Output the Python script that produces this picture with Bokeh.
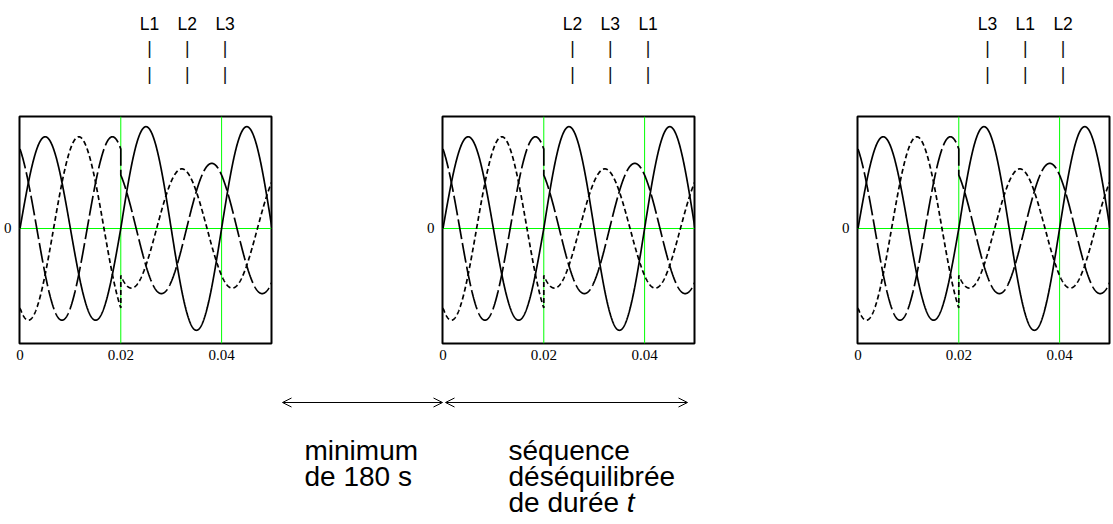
import numpy as np
from bokeh.plotting import figure
from bokeh.layouts import column, row
from bokeh.models import Range1d, FixedTicker, Arrow, OpenHead
from bokeh.core.properties import value
from bokeh.embed import file_html
from bokeh.resources import INLINE

# ---------------- data ----------------
freq_hz = 50
t_start = 0.0
t_switch = 0.02
t_end = 0.05
# phasor description of the three curves (solid, short dash, long dash)
amp_before = [1.00, 1.00, 1.00]
angle_before_deg = [0, -120, 120]
amp_after = [1.11, 0.65, 0.71]
angle_after_deg = [0, -128, 125]
y_limits = [-1.254, 1.221]

x_ticks = [0, 0.02, 0.04]
x_tick_labels = ["0", "0.02", "0.04"]
y_ticks = [0]
y_tick_labels = ["0"]

panel_labels = [["L1", "L2", "L3"], ["L2", "L3", "L1"], ["L3", "L1", "L2"]]
left_text = ["minimum", "de 180 s"]
right_text = ["séquence", "déséquilibrée", "de durée"]
right_text_italic = "t"

# ---------------- layout / style ----------------
FRAME_W, FRAME_H = 255, 227
BORDER_L = 16
frame_left = [24, 439, 854]          # page x of each plot frame
TOP_H, PLOT_TOP, PLOT_BOTTOM, BOTTOM_H = 112, 4, 26, 154
TOTAL_W = 1112
label_t = [0.0257, 0.0332, 0.0407]   # where the L-labels sit on each time axis
curve_dash = ["solid", "5 3", "20 4"]
GREEN = "#00ff00"
half_px = 0.5 * (t_end - t_start) / FRAME_W   # keeps 1px green lines crisp

omega = 2 * np.pi * freq_hz
t_a = np.linspace(t_start, t_switch, 500)
t_b = np.linspace(t_switch, t_end, 750)
t_all = np.concatenate([t_a, t_b])

col_starts = [0] + [fl - BORDER_L for fl in frame_left[1:]]
col_ends = col_starts[1:] + [TOTAL_W]
widths = [e - s for s, e in zip(col_starts, col_ends)]
border_r = [w - BORDER_L - FRAME_W for w in widths]

SANS = value("Liberation Sans")

cols = []
for i in range(3):
    x_rng = Range1d(t_start - half_px, t_end - half_px)
    # --- label strip above the plot ---
    lab = figure(width=widths[i], height=TOP_H, x_range=x_rng,
                 y_range=Range1d(TOP_H, 0), title=None,
                 x_axis_type=None, y_axis_type=None, toolbar_location=None,
                 output_backend="svg", min_border_left=BORDER_L,
                 min_border_right=border_r[i], min_border_top=0, min_border_bottom=0,
                 outline_line_color=None)
    lab.text(x=label_t, y=[23.5] * 3, text=panel_labels[i],
             text_font=SANS, text_font_size="17.5px",
             text_align="center", text_baseline="alphabetic", text_color="black")
    lab.text(x=label_t * 2, y=[47] * 3 + [73] * 3, text=["|"] * 6,
             text_font=SANS, text_font_size="17.5px",
             text_align="center", text_baseline="alphabetic", text_color="#111111")

    # --- waveform plot ---
    p = figure(width=widths[i], height=PLOT_TOP + FRAME_H + PLOT_BOTTOM,
               x_range=x_rng, y_range=Range1d(*y_limits), title=None,
               toolbar_location=None, output_backend="svg",
               min_border_left=BORDER_L, min_border_right=border_r[i],
               min_border_top=PLOT_TOP, min_border_bottom=PLOT_BOTTOM)
    p.outline_line_color = "black"
    p.outline_line_width = 2
    marks = x_ticks[1:]
    p.segment(x0=marks, y0=[y_limits[0]] * len(marks), x1=marks,
              y1=[y_limits[1]] * len(marks), line_color=GREEN, line_width=1)
    for k in range(3):
        y = np.concatenate([
            amp_before[k] * np.sin(omega * t_a + np.radians(angle_before_deg[k])),
            amp_after[k] * np.sin(omega * t_b + np.radians(angle_after_deg[k])),
        ])
        p.line(t_all, y, line_color="black", line_width=1.7, line_dash=curve_dash[k])

    p.xaxis.ticker = FixedTicker(ticks=x_ticks)
    p.xaxis.major_label_overrides = dict(zip(x_ticks, x_tick_labels))
    p.yaxis.ticker = FixedTicker(ticks=y_ticks)
    p.yaxis.major_label_overrides = dict(zip(y_ticks, y_tick_labels))
    for ax in (p.xaxis[0], p.yaxis[0]):
        ax.axis_line_color = None
        ax.major_tick_line_color = None
        ax.minor_tick_line_color = None
        ax.major_tick_out = 0
        ax.major_tick_in = 0
        ax.major_label_text_font = "Liberation Serif"
        ax.major_label_text_font_size = "15px"
        ax.major_label_text_color = "black"
    p.xaxis.major_label_standoff = 6
    p.yaxis.major_label_standoff = 8
    p.xgrid.grid_line_color = None
    p.ygrid.grid_line_color = GREEN
    p.ygrid.grid_line_width = 1
    cols.append(column(lab, p))

# ---------------- bottom strip: arrows and captions ----------------
y0 = TOP_H + PLOT_TOP + FRAME_H + PLOT_BOTTOM
bottom = figure(width=TOTAL_W, height=BOTTOM_H, title=None,
                x_range=Range1d(0, TOTAL_W), y_range=Range1d(y0 + BOTTOM_H, y0),
                x_axis_type=None, y_axis_type=None, toolbar_location=None,
                output_backend="svg", min_border=0, outline_line_color=None)

f1_right = frame_left[0] + FRAME_W
f2_left = frame_left[1]
f2_right = frame_left[1] + FRAME_W
arrow_y = 402
for xs, xe in [(f1_right + 3, f2_left + 3), (f2_left + 6, f2_right - 7)]:
    bottom.add_layout(Arrow(start=OpenHead(size=9, line_width=1, line_color="black"),
                            end=OpenHead(size=9, line_width=1, line_color="black"),
                            x_start=xs, y_start=arrow_y, x_end=xe, y_end=arrow_y,
                            line_width=1, line_color="black"))

FS = 28
base = [450, 476, 502]
lx = f2_left - 135
rx = f2_left + 69
bottom.text(x=[lx] * len(left_text), y=base[:len(left_text)], text=left_text,
            text_font=SANS, text_font_size=f"{FS}px",
            text_align="left", text_baseline="alphabetic", text_color="black")
bottom.text(x=[rx] * len(right_text), y=base[:len(right_text)], text=right_text,
            text_font=SANS, text_font_size=f"{FS}px",
            text_align="left", text_baseline="alphabetic", text_color="black")
bottom.text(x=[rx + 4.225 * FS], y=[base[2]], text=[right_text_italic],
            text_font=SANS, text_font_size=f"{FS}px",
            text_font_style="italic",
            text_align="left", text_baseline="alphabetic", text_color="black")

layout = column(row(*cols), bottom)
open("out.html", "w").write(file_html(layout, INLINE))
